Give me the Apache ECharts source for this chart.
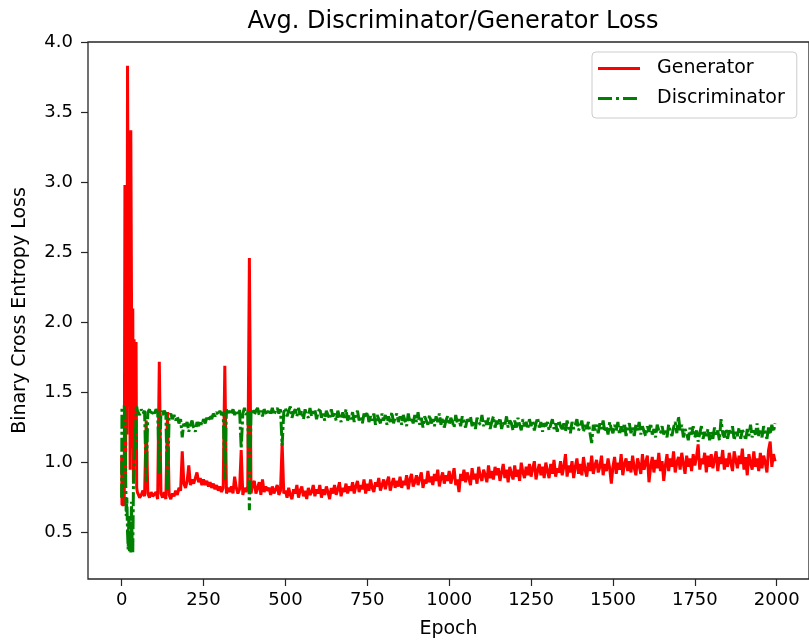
<!DOCTYPE html>
<html>
<head>
<meta charset="utf-8">
<script src="https://cdn.jsdelivr.net/npm/echarts@6/dist/echarts.min.js"></script>
<style>html,body{margin:0;padding:0;background:#fff;}#chart{width:809px;height:644px;}</style>
</head>
<body>
<div id="chart"></div>
<script>
// ---- data ----
const titleText = 'Avg. Discriminator/Generator Loss';
const xTicks = [0, 250, 500, 750, 1000, 1250, 1500, 1750, 2000];
const yTicks = [0.5, 1.0, 1.5, 2.0, 2.5, 3.0, 3.5, 4.0];

// first epochs (irregular spacing)
const earlyEpochs = [0,1,2,4,6,8,10,12,14,16,18,20,22,24,26,28,30,32,34,36,38,40,42,44,46,48];
const genEarly  = [1.05,0.70,0.70,0.70,0.70,0.70,2.98,0.90,2.30,1.20,3.83,3.83,1.40,2.70,0.95,3.37,3.37,1.10,2.10,0.85,1.88,1.88,1.10,1.86,0.82,0.79];
const discEarly = [0.75,1.40,1.41,1.40,1.39,1.40,1.36,0.95,0.62,0.75,0.50,0.38,0.62,0.36,0.58,0.36,0.72,0.45,0.36,0.82,0.98,1.25,1.10,1.38,1.40,1.37];

// from epoch 50 on, one value every 5 epochs
const startEpoch = 50;
const epochStep = 5;
const genLoss = [
0.79,0.75,0.77,0.80,0.76,1.30,0.78,0.75,0.79,0.76, // 50
0.77,0.79,0.74,1.72,0.78,0.75,0.79,0.74,1.36,0.77, // 100
0.74,0.78,0.76,0.80,0.77,0.82,0.80,1.08,0.85,0.82, // 150
0.87,0.98,0.84,0.88,0.85,0.89,0.93,0.86,0.89,0.84, // 200
0.88,0.84,0.87,0.83,0.86,0.82,0.85,0.81,0.84,0.80, // 250
0.83,0.79,0.82,1.69,0.78,0.82,0.79,0.83,0.78,0.90, // 300
0.82,0.78,0.81,1.09,0.77,0.82,0.79,0.83,2.46,0.78, // 350
0.84,0.87,0.78,0.82,0.86,0.77,0.88,0.79,0.83,0.80, // 400
0.82,0.77,0.83,0.78,0.81,0.84,0.77,0.80,1.14,0.78, // 450
0.80,0.75,0.82,0.77,0.74,0.81,0.78,0.84,0.75,0.80, // 500
0.83,0.76,0.80,0.74,0.82,0.77,0.79,0.84,0.76,0.81, // 550
0.78,0.84,0.75,0.81,0.77,0.83,0.79,0.74,0.82,0.78, // 600
0.84,0.77,0.81,0.86,0.76,0.82,0.79,0.85,0.78,0.83, // 650
0.80,0.86,0.78,0.83,0.87,0.79,0.84,0.81,0.88,0.78, // 700
0.85,0.80,0.88,0.82,0.79,0.86,0.83,0.89,0.80,0.84, // 750
0.88,0.81,0.86,0.90,0.80,0.85,0.89,0.82,0.87,0.83, // 800
0.90,0.82,0.87,0.84,0.91,0.81,0.88,0.92,0.83,0.86, // 850
0.91,0.84,0.89,0.93,0.82,0.88,0.85,0.94,0.86,0.90, // 900
0.84,0.92,0.87,0.95,0.83,0.89,0.93,0.85,0.91,0.87, // 950
0.94,0.85,0.90,0.96,0.84,0.88,0.79,0.92,0.87,0.95, // 1000
0.86,0.93,0.89,0.84,0.96,0.88,0.92,0.85,0.97,0.90, // 1050
0.87,0.95,0.91,0.86,0.98,0.89,0.94,0.88,0.97,0.91, // 1100
0.96,0.87,0.93,0.99,0.89,0.95,0.86,0.97,0.92,0.88, // 1150
0.98,0.90,0.95,0.87,1.00,0.93,0.89,0.97,0.91,0.99, // 1200
0.90,0.96,1.01,0.88,0.94,0.99,0.91,0.97,0.89,1.00, // 1250
0.94,0.89,0.99,0.92,1.02,0.90,0.96,0.93,1.01,0.91, // 1300
0.97,1.06,0.90,0.98,0.93,1.01,0.89,0.97,1.03,0.92, // 1350
0.99,0.91,1.04,0.95,0.90,1.00,0.94,1.05,0.92,0.98, // 1400
1.02,0.93,0.97,1.05,0.91,0.99,0.94,1.03,0.96,0.85, // 1450
0.97,1.04,0.92,1.00,0.95,1.06,0.91,0.99,1.03,0.94, // 1500
1.01,0.93,1.05,0.96,0.91,1.03,0.98,0.92,1.06,0.95, // 1550
1.00,1.05,0.86,0.97,1.04,0.93,1.02,0.96,1.07,0.94, // 1600
1.01,0.87,0.98,1.06,0.94,1.03,0.97,1.08,0.93,1.00, // 1650
1.04,0.95,1.07,0.99,0.92,1.05,0.97,1.03,0.94,1.06, // 1700
0.98,1.04,1.13,0.95,1.03,0.99,1.07,0.93,1.05,0.97, // 1750
1.06,0.96,1.02,1.08,0.94,1.04,0.99,1.09,0.95,1.03, // 1800
0.97,1.07,1.00,0.94,1.08,1.02,0.96,1.05,0.99,1.10, // 1850
0.95,1.04,0.91,1.06,1.00,0.95,1.08,0.97,1.03,0.94, // 1900
1.07,0.96,1.05,1.00,0.93,1.09,1.15,0.97,1.06,1.01  // 1950
];
const discLoss = [
1.37,1.34,1.38,1.35,1.37,0.86,1.36,1.38,1.34,1.37, // 50
1.35,1.38,1.36,0.92,1.37,1.34,1.37,1.35,0.80,1.33, // 100
1.35,1.31,1.34,1.30,1.33,1.28,1.31,1.18,1.29,1.26, // 150
1.29,1.22,1.27,1.30,1.25,1.22,1.29,1.26,1.30,1.27, // 200
1.31,1.28,1.32,1.30,1.34,1.31,1.35,1.33,1.36,1.34, // 250
1.37,1.34,1.36,0.88,1.38,1.34,1.37,1.35,1.38,1.34, // 300
1.37,1.35,1.38,1.10,1.35,1.39,1.34,1.37,0.66,1.35, // 350
1.38,1.34,1.37,1.39,1.34,1.37,1.33,1.38,1.36,1.34, // 400
1.38,1.35,1.39,1.34,1.37,1.39,1.35,1.38,1.12,1.36, // 450
1.39,1.33,1.37,1.40,1.32,1.36,1.38,1.33,1.39,1.34, // 500
1.37,1.31,1.38,1.34,1.32,1.39,1.33,1.36,1.38,1.31, // 550
1.36,1.39,1.32,1.35,1.30,1.37,1.34,1.31,1.38,1.33, // 600
1.35,1.30,1.37,1.33,1.29,1.36,1.32,1.38,1.30,1.34, // 650
1.31,1.36,1.29,1.34,1.37,1.30,1.33,1.28,1.35,1.32, // 700
1.36,1.29,1.33,1.30,1.35,1.27,1.34,1.31,1.28,1.35, // 750
1.30,1.34,1.27,1.33,1.29,1.36,1.28,1.32,1.35,1.29, // 800
1.33,1.27,1.34,1.30,1.26,1.35,1.29,1.32,1.28,1.34, // 850
1.29,1.36,1.27,1.32,1.25,1.33,1.30,1.27,1.34,1.28, // 900
1.31,1.26,1.33,1.29,1.35,1.27,1.32,1.25,1.30,1.33, // 950
1.27,1.32,1.29,1.25,1.34,1.28,1.31,1.26,1.33,1.29, // 1000
1.25,1.31,1.28,1.33,1.26,1.30,1.24,1.32,1.29,1.27, // 1050
1.34,1.26,1.30,1.27,1.32,1.24,1.29,1.33,1.25,1.30, // 1100
1.27,1.32,1.24,1.29,1.26,1.33,1.25,1.30,1.28,1.23, // 1150
1.30,1.25,1.32,1.27,1.23,1.31,1.26,1.29,1.24,1.31, // 1200
1.26,1.30,1.23,1.28,1.32,1.25,1.29,1.22,1.28,1.26, // 1250
1.29,1.23,1.27,1.31,1.24,1.28,1.22,1.30,1.26,1.24, // 1300
1.28,1.22,1.30,1.25,1.21,1.29,1.24,1.27,1.31,1.23, // 1350
1.26,1.30,1.22,1.27,1.24,1.29,1.21,1.14,1.27,1.23, // 1400
1.27,1.21,1.28,1.24,1.30,1.22,1.26,1.20,1.29,1.24, // 1450
1.21,1.27,1.23,1.29,1.20,1.26,1.22,1.28,1.19,1.25, // 1500
1.28,1.21,1.25,1.19,1.27,1.23,1.29,1.20,1.26,1.22, // 1550
1.19,1.26,1.22,1.28,1.20,1.24,1.18,1.27,1.23,1.21, // 1600
1.26,1.20,1.24,1.18,1.27,1.22,1.19,1.25,1.29,1.21, // 1650
1.33,1.23,1.27,1.18,1.24,1.21,1.16,1.25,1.20,1.26, // 1700
1.18,1.23,1.15,1.21,1.26,1.17,1.22,1.19,1.24,1.16, // 1750
1.22,1.17,1.25,1.19,1.23,1.16,1.31,1.21,1.18,1.24, // 1800
1.17,1.23,1.20,1.26,1.16,1.22,1.19,1.25,1.17,1.23, // 1850
1.21,1.16,1.24,1.19,1.27,1.18,1.23,1.20,1.28,1.19, // 1900
1.24,1.18,1.26,1.21,1.17,1.25,1.20,1.27,1.22,1.28  // 1950
];

// ---- build series data ----
function build(early, rest) {
  const pts = earlyEpochs.map((e, i) => [e, early[i]]);
  rest.forEach((v, i) => pts.push([startEpoch + i * epochStep, v]));
  return pts;
}
const genData = build(genEarly, genLoss);
const discData = build(discEarly, discLoss);

const FONT = 'DejaVu Sans';
const solidIcon = 'path://M0,0h42v3h-42z';
const dashDotIcon = 'path://M0,0h14v3h-14z M18,0h3v3h-3z M25,0h14v3h-14z M42,0h0.01v3h-0.01z';

const chart = echarts.init(document.getElementById('chart'), null, {renderer: 'canvas'});
chart.setOption({
  animation: false,
  backgroundColor: '#ffffff',
  title: {
    text: titleText,
    left: 448,
    textAlign: 'center',
    top: 5,
    textStyle: {fontFamily: FONT, fontSize: 24, fontWeight: 'normal', color: '#000'}
  },
  legend: {
    orient: 'vertical',
    left: 592,
    top: 52,
    padding: [7, 12, 10, 6],
    itemWidth: 42,
    itemHeight: 3,
    itemGap: 11,
    backgroundColor: '#ffffff',
    borderColor: '#cccccc',
    borderWidth: 1,
    borderRadius: 4,
    formatter: '  {name}',
    textStyle: {fontFamily: FONT, fontSize: 19, color: '#000'},
    data: [
      {name: 'Generator', icon: solidIcon, itemStyle: {color: '#ff0000'}},
      {name: 'Discriminator', icon: dashDotIcon, itemStyle: {color: '#008000'}}
    ]
  },
  grid: {
    left: 88, top: 42, width: 722, height: 538,
    show: true, borderColor: '#262626', borderWidth: 1.3, backgroundColor: 'transparent'
  },
  xAxis: {
    type: 'value',
    min: -102.7,
    max: 2098.5,
    name: 'Epoch',
    nameLocation: 'middle',
    nameGap: 41,
    nameTextStyle: {fontFamily: FONT, fontSize: 19, color: '#000'},
    axisLine: {show: false, onZero: false},
    splitLine: {show: false},
    axisTick: {show: true, length: 7, customValues: xTicks, lineStyle: {color: '#262626', width: 1.2}},
    axisLabel: {customValues: xTicks, margin: 12, fontFamily: FONT, fontSize: 18, color: '#000',
      formatter: v => String(v)}
  },
  yAxis: {
    type: 'value',
    min: 0.17,
    max: 4.0,
    name: 'Binary Cross Entropy Loss',
    nameLocation: 'middle',
    nameGap: 58,
    nameRotate: 90,
    nameTextStyle: {fontFamily: FONT, fontSize: 19, color: '#000'},
    axisLine: {show: false, onZero: false},
    splitLine: {show: false},
    axisTick: {show: true, length: 7, customValues: yTicks, lineStyle: {color: '#262626', width: 1.2}},
    axisLabel: {customValues: yTicks, margin: 15, fontFamily: FONT, fontSize: 18, color: '#000',
      formatter: v => v.toFixed(1)}
  },
  series: [
    {
      name: 'Generator', type: 'line', data: genData,
      symbol: 'none', showSymbol: false, sampling: null,
      color: '#ff0000',
      lineStyle: {color: '#ff0000', width: 3}
    },
    {
      name: 'Discriminator', type: 'line', data: discData,
      symbol: 'none', showSymbol: false, sampling: null,
      color: '#008000',
      lineStyle: {color: '#008000', width: 3, type: [14, 3, 3, 3]}
    }
  ]
});
</script>
</body>
</html>
